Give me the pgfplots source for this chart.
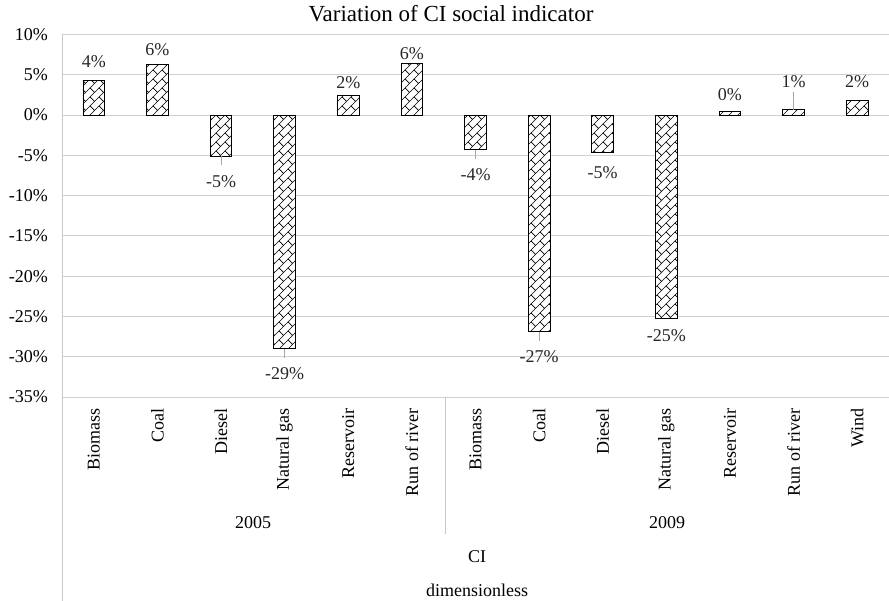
\documentclass[border=0pt]{standalone}
\usepackage{fontspec}
\setmainfont{Liberation Serif}
\usepackage{pgfplots}
\usepackage{pgfplotstable}
\pgfplotsset{compat=1.18}
\usetikzlibrary{patterns}

\pgfdeclarepatternformonly{diagbricks}{\pgfpoint{-0.5bp}{-0.5bp}}{\pgfpoint{9.5bp}{9.5bp}}{\pgfpoint{9bp}{9bp}}{%
  \pgfsetlinewidth{0.7bp}%
  \pgfpathmoveto{\pgfpoint{0bp}{0bp}}\pgfpathlineto{\pgfpoint{9bp}{9bp}}%
  \pgfpathmoveto{\pgfpoint{4.5bp}{4.5bp}}\pgfpathlineto{\pgfpoint{0bp}{9bp}}%
  \pgfusepath{stroke}}

% x: category position, v: value (%), off: label offset (bp)
\pgfplotstableread{
x v off
0 4.35 18
1 6.3 15
2 -5.1 -25
3 -29.0 -25
4 2.4 13
5 6.4 10
6 -4.3 -25
7 -26.9 -25
8 -4.6 -21
9 -25.2 -18
10 0.4 17
11 0.65 28
12 1.8 19
}\datatable

% leader lines: start at bar end, length in %
\pgfplotstableread{
x y em
2 -5.1 1.1
3 -29.0 1.2
6 -4.3 1.1
7 -26.9 1.2
}\leaddown
\pgfplotstableread{
x y ep
11 0.65 2.2
}\leadup

\newcommand{\lbl}{\fontsize{18bp}{20bp}\selectfont}

\begin{document}
\begin{tikzpicture}
\begin{axis}[
  at={(62bp,204bp)}, anchor=south west,
  width=827bp, height=362.5bp, scale only axis,
  xmin=-0.5, xmax=12.5, ymin=-35, ymax=10,
  ytick={-35,-30,...,10},
  xtick={0,...,12},
  xticklabels={Biomass,Coal,Diesel,Natural gas,Reservoir,Run of river,Biomass,Coal,Diesel,Natural gas,Reservoir,Run of river,Wind},
  ymajorgrids, grid style={draw=black!18, line width=0.9bp},
  axis line style={draw=none},
  major tick length=0pt,
  tick style={draw=none},
  /pgf/number format/assume math mode=true,
  yticklabel={\pgfmathprintnumber{\tick}\%},
  yticklabel style={font=\lbl, anchor=east, inner sep=0pt, xshift=-14bp},
  xticklabel style={font=\lbl, rotate=90, anchor=east, inner sep=0pt},
  xticklabel shift=11bp,
  ybar, bar width=21.7bp, bar shift=0pt,
  clip=false,
]
\addplot[ybar, bar shift=0pt, draw=black, line width=0.9bp, fill=white, postaction={pattern=diagbricks},
  visualization depends on={\thisrow{off} \as \myoff},
  nodes near coords={\pgfmathprintnumber[fixed,precision=0]{\pgfplotspointmeta}\%},
  nodes near coords style={font=\lbl, inner sep=0pt, text=black!85, anchor=center, yshift=\myoff bp},
] table[x=x,y=v]{\datatable};
\addplot[only marks, mark size=0pt, mark options={draw=none, fill=none}, draw=none,
  error bars/.cd, y dir=minus, y explicit, error mark=none,
  error bar style={draw=black!35, line width=0.9bp}]
  table[x=x, y=y, y error minus=em]{\leaddown};
\addplot[only marks, mark size=0pt, mark options={draw=none, fill=none}, draw=none,
  error bars/.cd, y dir=plus, y explicit, error mark=none,
  error bar style={draw=black!35, line width=0.9bp}]
  table[x=x, y=y, y error plus=ep]{\leadup};
\end{axis}
\draw[black!22, line width=0.9bp] (62bp,566.5bp) -- (62bp,0bp);
\draw[black!22, line width=0.9bp] (445bp,204bp) -- (445bp,67bp);
\node[font=\fontsize{23bp}{26bp}\selectfont] at (451bp,587bp) {Variation of CI social indicator};
\node[font=\lbl] at (253bp,78bp) {2005};
\node[font=\lbl] at (667bp,78bp) {2009};
\node[font=\lbl] at (477bp,44bp) {CI};
\node[font=\lbl] at (477bp,11bp) {dimensionless};
\pgfresetboundingbox
\path (0,0) rectangle (889bp,601bp);
\end{tikzpicture}
\end{document}
